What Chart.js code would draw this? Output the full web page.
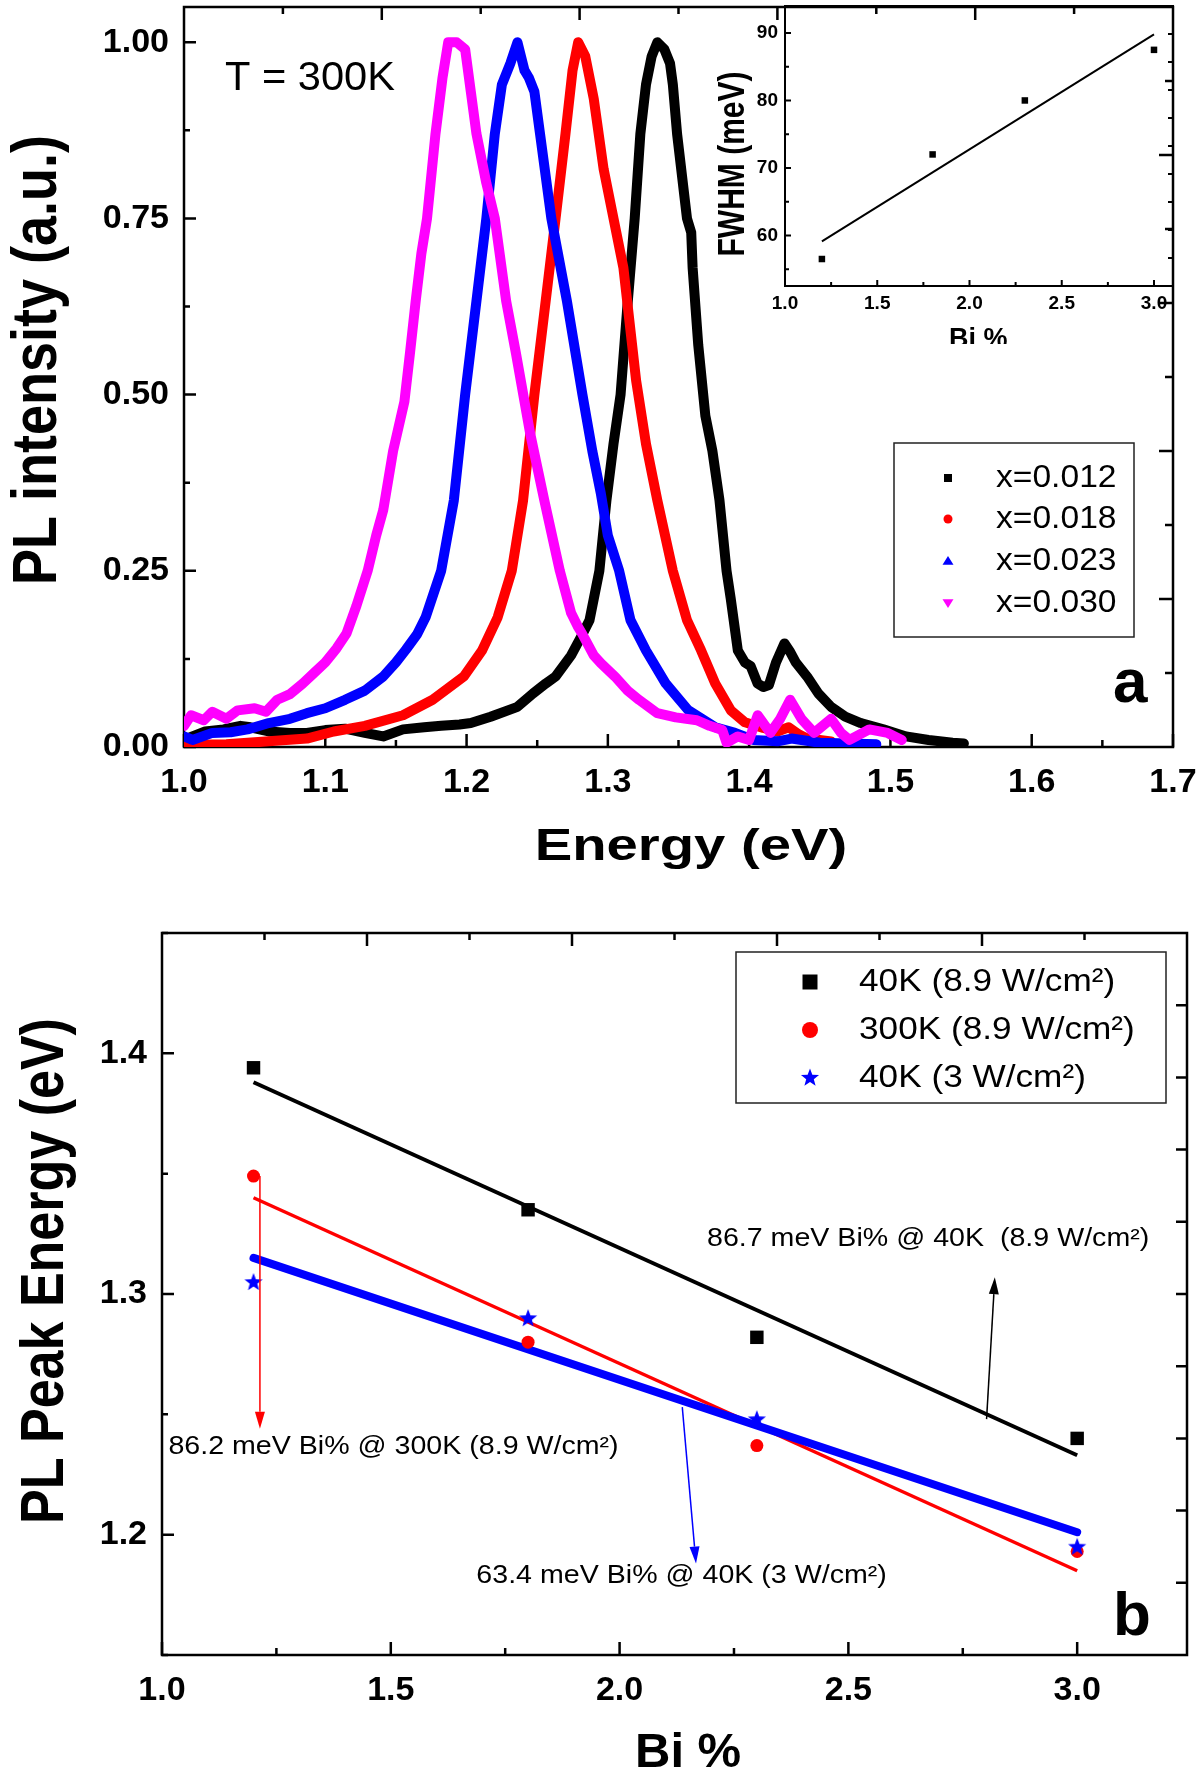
<!DOCTYPE html>
<html>
<head>
<meta charset="utf-8">
<title>PL spectra and PL peak energy vs Bi %</title>
<script src="https://cdn.jsdelivr.net/npm/chart.js@4.4.1/dist/chart.umd.min.js"></script>
<style>
  html, body { margin: 0; padding: 0; background: #fff; }
  #page { position: relative; width: 1200px; height: 1780px; background: #fff; }
  canvas { position: absolute; }
  #spectra { left: 0; top: 0; width: 1200px; height: 880px; }
  #inset { left: 700px; top: 0; width: 480px; height: 344px; }
  #peaks { left: 0; top: 880px; width: 1200px; height: 900px; }
</style>
</head>
<body>
<div id="page">
  <canvas id="spectra" width="1200" height="880"></canvas>
  <canvas id="peaks" width="1200" height="900"></canvas>
  <canvas id="inset" width="480" height="344"></canvas>
</div>
<script>
// ---- panel (a): normalized PL spectra at 300 K ----
var energy012 = [1.000, 1.006, 1.015, 1.028, 1.040, 1.047, 1.060, 1.075, 1.087, 1.100,
    1.114, 1.128, 1.141, 1.155, 1.170, 1.182, 1.195, 1.203, 1.217, 1.236,
    1.247, 1.256, 1.263, 1.274, 1.282, 1.287, 1.294, 1.299, 1.304, 1.309,
    1.314, 1.319, 1.323, 1.327, 1.331, 1.335, 1.340, 1.344, 1.346, 1.349,
    1.356, 1.359, 1.360, 1.364, 1.369, 1.374, 1.379, 1.384, 1.387, 1.392,
    1.397, 1.401, 1.406, 1.410, 1.414, 1.419, 1.425, 1.429, 1.433, 1.441,
    1.449, 1.458, 1.468, 1.479, 1.495, 1.511, 1.527, 1.544, 1.552];
var pl012 = [0.010, 0.015, 0.022, 0.025, 0.030, 0.028, 0.022, 0.020, 0.020, 0.024,
    0.026, 0.020, 0.015, 0.025, 0.028, 0.030, 0.032, 0.034, 0.043, 0.057,
    0.076, 0.090, 0.100, 0.130, 0.160, 0.180, 0.250, 0.350, 0.430, 0.500,
    0.630, 0.750, 0.870, 0.940, 0.980, 1.000, 0.990, 0.970, 0.940, 0.870,
    0.750, 0.730, 0.680, 0.570, 0.470, 0.420, 0.350, 0.250, 0.210, 0.137,
    0.120, 0.115, 0.090, 0.085, 0.088, 0.120, 0.147, 0.135, 0.120, 0.100,
    0.076, 0.057, 0.043, 0.034, 0.025, 0.015, 0.010, 0.006, 0.005];

var energy018 = [1.000, 1.030, 1.060, 1.087, 1.106, 1.128, 1.155, 1.176, 1.198, 1.211,
    1.222, 1.232, 1.240, 1.248, 1.256, 1.263, 1.270, 1.275, 1.279, 1.284,
    1.290, 1.297, 1.303, 1.311, 1.320, 1.327, 1.335, 1.346, 1.356, 1.366,
    1.376, 1.387, 1.397, 1.410, 1.420, 1.428, 1.435, 1.441, 1.450, 1.458];
var pl018 = [0.003, 0.004, 0.008, 0.012, 0.022, 0.030, 0.045, 0.067, 0.100, 0.137,
    0.184, 0.250, 0.350, 0.500, 0.633, 0.750, 0.870, 0.960, 1.000, 0.980,
    0.920, 0.820, 0.760, 0.680, 0.520, 0.430, 0.350, 0.250, 0.180, 0.137,
    0.090, 0.052, 0.035, 0.027, 0.022, 0.028, 0.018, 0.012, 0.010, 0.008];

var energy023 = [1.000, 1.006, 1.020, 1.033, 1.045, 1.060, 1.075, 1.087, 1.100, 1.114,
    1.128, 1.141, 1.150, 1.157, 1.165, 1.171, 1.182, 1.191, 1.199, 1.207,
    1.214, 1.220, 1.225, 1.231, 1.236, 1.241, 1.244, 1.248, 1.252, 1.260,
    1.271, 1.282, 1.289, 1.295, 1.300, 1.308, 1.316, 1.327, 1.341, 1.357,
    1.376, 1.390, 1.403, 1.420, 1.430, 1.450, 1.470, 1.490];
var pl023 = [0.015, 0.010, 0.020, 0.021, 0.025, 0.034, 0.040, 0.048, 0.055, 0.067,
    0.080, 0.100, 0.120, 0.138, 0.160, 0.184, 0.250, 0.350, 0.500, 0.633,
    0.750, 0.870, 0.940, 0.970, 1.000, 0.960, 0.950, 0.930, 0.870, 0.750,
    0.633, 0.500, 0.420, 0.360, 0.300, 0.250, 0.180, 0.137, 0.090, 0.052,
    0.028, 0.020, 0.010, 0.008, 0.012, 0.006, 0.005, 0.004];

var energy030 = [1.000, 1.005, 1.014, 1.020, 1.030, 1.038, 1.050, 1.058, 1.066, 1.075,
    1.084, 1.092, 1.100, 1.108, 1.115, 1.122, 1.130, 1.136, 1.141, 1.148,
    1.156, 1.160, 1.164, 1.168, 1.172, 1.178, 1.183, 1.187, 1.193, 1.199,
    1.203, 1.207, 1.214, 1.220, 1.228, 1.235, 1.241, 1.245, 1.255, 1.266,
    1.274, 1.279, 1.282, 1.290, 1.295, 1.305, 1.314, 1.322, 1.335, 1.348,
    1.363, 1.372, 1.381, 1.384, 1.392, 1.400, 1.406, 1.415, 1.422, 1.429,
    1.437, 1.446, 1.458, 1.465, 1.471, 1.485, 1.498, 1.508];
var pl030 = [0.030, 0.045, 0.038, 0.050, 0.040, 0.052, 0.055, 0.050, 0.067, 0.075,
    0.090, 0.105, 0.120, 0.140, 0.161, 0.200, 0.250, 0.300, 0.336, 0.420,
    0.490, 0.560, 0.633, 0.700, 0.750, 0.870, 0.950, 1.000, 1.000, 0.990,
    0.930, 0.870, 0.800, 0.750, 0.633, 0.558, 0.490, 0.445, 0.350, 0.250,
    0.190, 0.170, 0.160, 0.130, 0.119, 0.100, 0.080, 0.067, 0.048, 0.042,
    0.038, 0.030, 0.024, 0.006, 0.015, 0.010, 0.045, 0.020, 0.040, 0.067,
    0.040, 0.020, 0.040, 0.020, 0.010, 0.025, 0.020, 0.010];

var spectraLabels = ['x=0.012', 'x=0.018', 'x=0.023', 'x=0.030'];
var energyTicks = [1.0, 1.1, 1.2, 1.3, 1.4, 1.5, 1.6, 1.7];
var intensityTicks = [0, 0.25, 0.5, 0.75, 1.0];

// ---- inset: FWHM vs Bi % ----
var biInset = [1.2, 1.8, 2.3, 3.0];
var fwhm = [56.5, 72.0, 80.0, 87.5];
var fwhmFitX = [1.2, 3.0];
var fwhmFitY = [59.1, 89.8];
var fwhmTicks = [60, 70, 80, 90];

// ---- panel (b): PL peak energy vs Bi % ----
var bi = [1.2, 1.8, 2.3, 3.0];
var peak40kHigh = [1.394, 1.335, 1.282, 1.240];
var peak300k = [1.349, 1.280, 1.237, 1.193];
var peak40kLow = [1.305, 1.290, 1.248, 1.195];
var fitX = [1.2, 3.0];
var fit40kHigh = [1.388, 1.233];
var fit300k = [1.340, 1.185];
var fit40kLow = [1.315, 1.201];
var peakLabels = ['40K (8.9 W/cm\u00B2)', '300K (8.9 W/cm\u00B2)', '40K (3 W/cm\u00B2)'];
var biTicks = [1.0, 1.5, 2.0, 2.5, 3.0];
var peakTicks = [1.2, 1.3, 1.4];

var SANS = "'Liberation Sans', Arial, Helvetica, sans-serif";
Chart.defaults.font.family = SANS;
Chart.defaults.color = '#000';

function xy(xs, ys) {
    return xs.map(function (x, i) { return { x: x, y: ys[i] }; });
}

function fixedTicks(values) {
    return function (scale) {
        scale.ticks = values.map(function (v) { return { value: v }; });
    };
}

// text with an optional horizontal stretch (the figure is a bit wide)
function drawLabel(ctx, str, x, y, size, o) {
    o = o || {};
    ctx.save();
    ctx.translate(x, y);
    ctx.scale(o.sx || 1, 1);
    if (o.rot) ctx.rotate(o.rot);
    ctx.font = (o.bold ? 'bold ' : '') + size + 'px ' + SANS;
    ctx.fillStyle = o.color || '#000';
    ctx.textAlign = o.align || 'left';
    ctx.textBaseline = o.base || 'alphabetic';
    ctx.fillText(str, 0, 0);
    ctx.restore();
}

function starPath(ctx, x, y, R) {
    for (var k = 0; k < 10; k++) {
        var ang = -Math.PI / 2 + k * Math.PI / 5;
        var r = k % 2 ? R * 0.42 : R;
        if (k === 0) ctx.moveTo(x + r * Math.cos(ang), y + r * Math.sin(ang));
        else ctx.lineTo(x + r * Math.cos(ang), y + r * Math.sin(ang));
    }
}

function drawMarker(ctx, style, x, y, s, color) {
    ctx.save();
    ctx.fillStyle = color;
    ctx.beginPath();
    if (style === 'square') ctx.rect(x - s / 2, y - s / 2, s, s);
    else if (style === 'circle') ctx.arc(x, y, s / 2, 0, Math.PI * 2);
    else if (style === 'up') { ctx.moveTo(x, y - s * 0.45); ctx.lineTo(x + s / 2, y + s * 0.35); ctx.lineTo(x - s / 2, y + s * 0.35); }
    else if (style === 'down') { ctx.moveTo(x, y + s * 0.45); ctx.lineTo(x + s / 2, y - s * 0.35); ctx.lineTo(x - s / 2, y - s * 0.35); }
    else if (style === 'star') starPath(ctx, x, y, s / 2);
    ctx.closePath();
    ctx.fill();
    ctx.restore();
}

function drawArrow(ctx, x1, y1, x2, y2, color) {
    var ang = Math.atan2(y2 - y1, x2 - x1), len = 17, half = 5;
    var bx = x2 - len * Math.cos(ang), by = y2 - len * Math.sin(ang);
    ctx.save();
    ctx.strokeStyle = color;
    ctx.fillStyle = color;
    ctx.lineWidth = 1.5;
    ctx.beginPath();
    ctx.moveTo(x1, y1);
    ctx.lineTo(bx, by);
    ctx.stroke();
    ctx.beginPath();
    ctx.moveTo(x2, y2);
    ctx.lineTo(bx + half * Math.sin(ang), by - half * Math.cos(ang));
    ctx.lineTo(bx - half * Math.sin(ang), by + half * Math.cos(ang));
    ctx.closePath();
    ctx.fill();
    ctx.restore();
}

function eachTick(min, max, t, cb) {
    var k = Math.ceil(min / t.minor - 1e-6);
    for (; k * t.minor <= max + 1e-9; k++) {
        var v = k * t.minor, r = v / t.major;
        cb(v, Math.abs(r - Math.round(r)) < 1e-6);
    }
}

// box with inward ticks on all four sides
function drawFrame(chart, f) {
    var ctx = chart.ctx, a = chart.chartArea, xs = chart.scales.x, ys = chart.scales.y;
    var w = a.right - a.left, h = a.bottom - a.top, i, p, len;
    ctx.save();
    ctx.strokeStyle = '#000';
    ctx.lineWidth = f.lw;
    ctx.beginPath();
    eachTick(xs.min, xs.max, f.x, function (v, major) {
        var px = xs.getPixelForValue(v);
        ctx.moveTo(px, a.bottom);
        ctx.lineTo(px, a.bottom - (major ? f.x.long : f.x.short));
    });
    eachTick(ys.min, ys.max, f.y, function (v, major) {
        var py = ys.getPixelForValue(v);
        ctx.moveTo(a.left, py);
        ctx.lineTo(a.left + (major ? f.y.long : f.y.short), py);
    });
    for (i = 1; i < f.top.div; i++) {
        p = a.left + i * w / f.top.div;
        len = i % 2 ? f.top.short : f.top.long;
        ctx.moveTo(p, a.top);
        ctx.lineTo(p, a.top + len);
    }
    for (i = 1; i < f.right.div; i++) {
        p = a.bottom - i * h / f.right.div;
        len = i % 2 ? f.right.short : f.right.long;
        ctx.moveTo(a.right, p);
        ctx.lineTo(a.right - len, p);
    }
    ctx.stroke();
    ctx.strokeRect(a.left, a.top, w, h);
    ctx.restore();
}

function tickFont(size) {
    return { family: SANS, size: size, weight: 'bold' };
}

// Panel (a)
var spectraDecor = {
    id: 'spectraDecor',
    beforeDatasetsDraw: function (chart) {
        drawFrame(chart, {
            lw: 2.5,
            x: { major: 0.1, minor: 0.05, long: 13, short: 7 },
            y: { major: 0.25, minor: 0.125, long: 12, short: 6 },
            top: { div: 10, long: 13, short: 7 },
            right: { div: 10, long: 14, short: 8 }
        });
    },
    afterDraw: function (chart) {
        var ctx = chart.ctx;
        drawLabel(ctx, 'PL intensity (a.u.)', 56, 360, 54, { bold: true, sx: 1.15, rot: -Math.PI / 2, align: 'center' });
        drawLabel(ctx, 'Energy (eV)', 691, 860, 45, { bold: true, sx: 1.25, align: 'center' });
        drawLabel(ctx, 'T = 300K', 225, 90, 40, { sx: 1.04 });
        drawLabel(ctx, 'a', 1113, 702, 62, { bold: true });

        // legend
        var rows = [478, 519, 561, 603];
        var styles = ['square', 'circle', 'up', 'down'];
        var sizes = [8, 9, 11, 11];
        ctx.save();
        ctx.strokeStyle = '#222';
        ctx.lineWidth = 1.5;
        ctx.strokeRect(894, 443, 240, 194);
        ctx.restore();
        chart.data.datasets.forEach(function (ds, i) {
            drawMarker(ctx, styles[i], 948, rows[i], sizes[i], ds.borderColor);
            drawLabel(ctx, ds.label, 996, rows[i], 32, { sx: 1.05, base: 'middle' });
        });
    }
};

var spectraChart = new Chart(document.getElementById('spectra'), {
    type: 'line',
    data: {
        datasets: [
            { label: spectraLabels[0], data: xy(energy012, pl012), borderColor: '#000000', order: 3 },
            { label: spectraLabels[1], data: xy(energy018, pl018), borderColor: '#ff0000', order: 2 },
            { label: spectraLabels[2], data: xy(energy023, pl023), borderColor: '#0000ff', order: 1 },
            { label: spectraLabels[3], data: xy(energy030, pl030), borderColor: '#ff00ff', order: 0 }
        ]
    },
    options: {
        responsive: false,
        animation: false,
        layout: { padding: { left: 0, right: 27, top: 7, bottom: 0 } },
        elements: {
            point: { radius: 0 },
            line: { borderWidth: 10, tension: 0, borderJoinStyle: 'round', borderCapStyle: 'round' }
        },
        plugins: { legend: { display: false }, tooltip: { enabled: false } },
        scales: {
            x: {
                type: 'linear', min: 1.0, max: 1.7,
                grid: { display: false, drawTicks: false }, border: { display: false },
                afterBuildTicks: fixedTicks(energyTicks),
                ticks: {
                    padding: 15, maxRotation: 0, autoSkip: false, color: '#000',
                    font: tickFont(34),
                    callback: function (v) { return v.toFixed(1); }
                },
                afterFit: function (s) { s.height = 133; s.paddingLeft = 0; s.paddingRight = 0; }
            },
            y: {
                type: 'linear', min: 0, max: 1.05,
                grid: { display: false, drawTicks: false }, border: { display: false },
                afterBuildTicks: fixedTicks(intensityTicks),
                ticks: {
                    padding: 15, autoSkip: false, color: '#000',
                    font: tickFont(34),
                    callback: function (v) { return v.toFixed(2); }
                },
                afterFit: function (s) { s.width = 184; s.paddingTop = 0; s.paddingBottom = 0; }
            }
        }
    },
    plugins: [spectraDecor]
});

// Inset
var insetDecor = {
    id: 'insetDecor',
    beforeDatasetsDraw: function (chart) {
        drawFrame(chart, {
            lw: 2,
            x: { major: 0.5, minor: 0.25, long: 6, short: 4 },
            y: { major: 10, minor: 5, long: 6, short: 4 },
            top: { div: 0 },
            right: { div: 10, long: 5, short: 5 }
        });
    },
    afterDraw: function (chart) {
        var ctx = chart.ctx;
        drawLabel(ctx, 'FWHM (meV)', 43.5, 164, 30, { bold: true, sx: 1.23, rot: -Math.PI / 2, align: 'center' });
        drawLabel(ctx, 'Bi %', 249, 347, 27, { bold: true });
    }
};

var insetChart = new Chart(document.getElementById('inset'), {
    type: 'scatter',
    data: {
        datasets: [
            { data: xy(biInset, fwhm), pointStyle: 'rect', pointRadius: 4.6, backgroundColor: '#000', borderWidth: 0, order: 0 },
            { data: xy(fwhmFitX, fwhmFitY), showLine: true, borderColor: '#000', borderWidth: 2, pointRadius: 0, order: 1 }
        ]
    },
    options: {
        responsive: false,
        animation: false,
        layout: { padding: { left: 0, right: 7, top: 6, bottom: 0 } },
        plugins: { legend: { display: false }, tooltip: { enabled: false } },
        scales: {
            x: {
                type: 'linear', min: 1.0, max: 3.103,
                grid: { display: false, drawTicks: false }, border: { display: false },
                afterBuildTicks: fixedTicks(biTicks),
                ticks: {
                    padding: 6, maxRotation: 0, autoSkip: false, color: '#000',
                    font: tickFont(19),
                    callback: function (v) { return v.toFixed(1); }
                },
                afterFit: function (s) { s.height = 58; s.paddingLeft = 0; s.paddingRight = 0; }
            },
            y: {
                type: 'linear', min: 52.5, max: 94,
                grid: { display: false, drawTicks: false }, border: { display: false },
                afterBuildTicks: fixedTicks(fwhmTicks),
                ticks: {
                    padding: 7, autoSkip: false, color: '#000',
                    font: tickFont(19),
                    callback: function (v) { return Math.round(v); }
                },
                afterFit: function (s) { s.width = 85; s.paddingTop = 0; s.paddingBottom = 0; }
            }
        }
    },
    plugins: [insetDecor]
});

// Panel (b)
var starImg = document.createElement('canvas');
starImg.width = 20;
starImg.height = 20;
(function () {
    var c = starImg.getContext('2d');
    c.fillStyle = '#0000ff';
    c.beginPath();
    starPath(c, 10, 10.5, 9.5);
    c.closePath();
    c.fill();
})();

var peaksDecor = {
    id: 'peaksDecor',
    beforeDatasetsDraw: function (chart) {
        drawFrame(chart, {
            lw: 2.5,
            x: { major: 0.5, minor: 0.25, long: 13, short: 7 },
            y: { major: 0.1, minor: 0.05, long: 12, short: 6 },
            top: { div: 10, long: 13, short: 7 },
            right: { div: 10, long: 11, short: 11 }
        });
    },
    afterDraw: function (chart) {
        var ctx = chart.ctx, xs = chart.scales.x, ys = chart.scales.y;
        function px(v) { return xs.getPixelForValue(v); }
        function py(v) { return ys.getPixelForValue(v); }

        drawLabel(ctx, 'PL Peak Energy (eV)', 63, 391, 52, { bold: true, sx: 1.16, rot: -Math.PI / 2, align: 'center' });
        drawLabel(ctx, 'Bi %', 635, 887, 49, { bold: true });
        drawLabel(ctx, 'b', 1113, 755, 62, { bold: true });

        drawArrow(ctx, px(2.802), py(1.248), px(2.82), py(1.307), '#000');
        drawArrow(ctx, px(1.214), py(1.349), px(1.214), py(1.244), '#ff0000');
        drawArrow(ctx, px(2.137), py(1.253), px(2.167), py(1.188), '#0000ff');
        drawLabel(ctx, '86.7 meV Bi% @ 40K  (8.9 W/cm\u00B2)', px(2.191), py(1.320), 26, { sx: 1.1 });
        drawLabel(ctx, '86.2 meV Bi% @ 300K (8.9 W/cm\u00B2)', px(1.014), py(1.2336), 26, { sx: 1.1 });
        drawLabel(ctx, '63.4 meV Bi% @ 40K (3 W/cm\u00B2)', px(1.687), py(1.180), 26, { sx: 1.1 });

        // legend
        var rows = [102, 150, 198];
        var styles = ['square', 'circle', 'star'];
        var sizes = [15, 16, 19];
        var colors = ['#000000', '#ff0000', '#0000ff'];
        ctx.save();
        ctx.strokeStyle = '#222';
        ctx.lineWidth = 1.5;
        ctx.strokeRect(736, 72, 430, 151);
        ctx.restore();
        for (var i = 0; i < 3; i++) {
            drawMarker(ctx, styles[i], 810, rows[i], sizes[i], colors[i]);
            drawLabel(ctx, chart.data.datasets[i].label, 859, rows[i], 32, { sx: 1.1, base: 'middle' });
        }
    }
};

var peaksChart = new Chart(document.getElementById('peaks'), {
    type: 'scatter',
    data: {
        datasets: [
            { label: peakLabels[0], data: xy(bi, peak40kHigh), pointStyle: 'rect', pointRadius: 9.5, backgroundColor: '#000000', borderWidth: 0, order: 0 },
            { label: peakLabels[1], data: xy(bi, peak300k), pointStyle: 'circle', pointRadius: 6.5, backgroundColor: '#ff0000', borderWidth: 0, order: 1 },
            { label: peakLabels[2], data: xy(bi, peak40kLow), pointStyle: starImg, pointRadius: 9, backgroundColor: '#0000ff', borderWidth: 0, order: 0 },
            { data: xy(fitX, fit40kHigh), showLine: true, borderColor: '#000000', borderWidth: 4, pointRadius: 0, order: 4 },
            { data: xy(fitX, fit300k), showLine: true, borderColor: '#ff0000', borderWidth: 3.5, pointRadius: 0, order: 3 },
            { data: xy(fitX, fit40kLow), showLine: true, borderColor: '#0000ff', borderWidth: 8, borderCapStyle: 'round', pointRadius: 0, order: 2 }
        ]
    },
    options: {
        responsive: false,
        animation: false,
        layout: { padding: { left: 0, right: 13, top: 53, bottom: 0 } },
        plugins: { legend: { display: false }, tooltip: { enabled: false } },
        scales: {
            x: {
                type: 'linear', min: 1.0, max: 3.24,
                grid: { display: false, drawTicks: false }, border: { display: false },
                afterBuildTicks: fixedTicks(biTicks),
                ticks: {
                    padding: 15, maxRotation: 0, autoSkip: false, color: '#000',
                    font: tickFont(34),
                    callback: function (v) { return v.toFixed(1); }
                },
                afterFit: function (s) { s.height = 125; s.paddingLeft = 0; s.paddingRight = 0; }
            },
            y: {
                type: 'linear', min: 1.15, max: 1.45,
                grid: { display: false, drawTicks: false }, border: { display: false },
                afterBuildTicks: fixedTicks(peakTicks),
                ticks: {
                    padding: 15, autoSkip: false, color: '#000',
                    font: tickFont(34),
                    callback: function (v) { return v.toFixed(1); }
                },
                afterFit: function (s) { s.width = 162; s.paddingTop = 0; s.paddingBottom = 0; }
            }
        }
    },
    plugins: [peaksDecor]
});
</script>
</body>
</html>
